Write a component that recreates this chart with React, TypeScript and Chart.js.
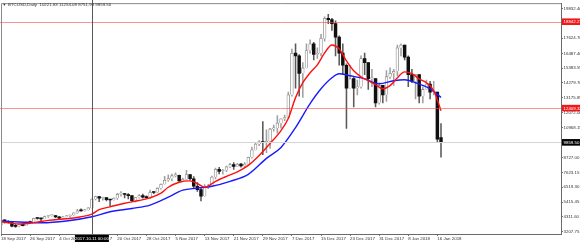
import React, { useEffect, useRef } from 'react';
import { Chart, registerables } from 'chart.js';

Chart.register(...registerables);

// ---- data ----
const startYear = 2017;
const startMonth = 8; // September (0-based)
const startDay = 18;
const totalSlots = 155; // visible daily slots incl. empty right margin
const monthNames = ['Jan', 'Feb', 'Mar', 'Apr', 'May', 'Jun', 'Jul', 'Aug', 'Sep', 'Oct', 'Nov', 'Dec'];

const opens = [
  3700, 4090, 3910, 3880, 3620, 3600, 3780, 3660, 3930, 3890, 4200, 4190, 4160, 4340, 4400, 4400, 4310, 4220, 4320, 4370,
  4430, 4610, 4770, 4760, 4830, 4980, 5640, 5820, 5700, 5750, 5600, 5570, 5710, 6000, 6000, 5980, 5900, 5520, 5750, 5900,
  5780, 5750, 6150, 6130, 6450, 6740, 7030, 7160, 7380, 7400, 6990, 7100, 7460, 7150, 6590, 6340, 5860, 6520, 6600, 7280,
  7850, 7700, 7780, 8040, 8200, 8070, 8250, 8100, 8250, 8750, 9300, 9730, 9900, 9840, 9950, 10860, 10910, 11290, 11620, 11700,
  13400, 16500, 16300, 15000, 15400, 16700, 17200, 16400, 16500, 17600, 19100, 19000, 18700, 17700, 16500, 15600, 13900, 14600, 13900, 14000,
  16100, 15800, 14600, 14600, 12800, 14100, 13400, 14750, 15000, 15150, 16900, 17100, 16200, 14900, 14400, 14900, 13300, 13800, 14200, 13600,
  13600, 10221.83,
];
const highs = [
  4120, 4100, 4030, 3900, 3760, 3800, 3790, 3970, 3990, 4220, 4260, 4210, 4370, 4410, 4470, 4430, 4340, 4360, 4420, 4460,
  4620, 4880, 4920, 4870, 5000, 5660, 5860, 5840, 5780, 5770, 5600, 5730, 6070, 6190, 6070, 6040, 5900, 5760, 5970, 6000,
  5870, 6310, 6200, 6470, 6770, 7330, 7440, 7490, 7600, 7420, 7200, 7770, 7460, 7310, 6860, 6490, 6720, 6730, 7340, 7940,
  8000, 7850, 8100, 8300, 8360, 8300, 8300, 8350, 8760, 9500, 9780, 9990, 11400, 10800, 10900, 11150, 11850, 11620, 11890, 13600,
  16800, 17200, 16400, 15800, 17200, 17500, 17300, 16900, 17900, 19200, 19400, 19100, 18900, 17800, 17200, 15700, 15600, 14700, 14500, 16300,
  16500, 15800, 15300, 14600, 14300, 14100, 15200, 15400, 15300, 17100, 17200, 17100, 16300, 15300, 14900, 14900, 14000, 14500, 14400, 14400,
  13600, 11254.08,
];
const lows = [
  3690, 3850, 3850, 3570, 3530, 3570, 3640, 3660, 3860, 3890, 4140, 4010, 4160, 4280, 4370, 4260, 4180, 4180, 4300, 4290,
  4420, 4560, 4730, 4740, 4820, 4960, 5570, 5450, 5560, 5500, 5110, 5550, 5610, 5850, 5720, 5650, 5460, 5400, 5700, 5710,
  5690, 5690, 6040, 6100, 6380, 6740, 6950, 6990, 7280, 6960, 6970, 7060, 7060, 6420, 6200, 5500, 5860, 6420, 6600, 7140,
  7510, 7500, 7680, 7980, 7850, 8070, 8020, 7980, 8190, 8690, 9300, 9620, 8950, 9100, 9400, 10700, 10550, 10910, 11470, 11700,
  13300, 13900, 13300, 13200, 15400, 16500, 16000, 16100, 16300, 17400, 18700, 18200, 16300, 15600, 14900, 10900, 13900, 12500, 13400, 13900,
  14900, 13800, 14000, 12500, 12700, 12800, 12900, 14600, 14100, 14800, 16300, 16000, 14000, 14300, 13100, 12800, 12800, 13800, 13100, 13400,
  9900, 8751.99,
];
const closes = [
  4090, 3910, 3880, 3620, 3600, 3780, 3660, 3930, 3890, 4200, 4190, 4160, 4340, 4400, 4400, 4310, 4220, 4320, 4370, 4430,
  4610, 4770, 4760, 4830, 4980, 5640, 5820, 5700, 5750, 5600, 5570, 5710, 6000, 6000, 5980, 5900, 5520, 5750, 5900, 5780,
  5750, 6150, 6130, 6450, 6740, 7030, 7160, 7380, 7400, 6990, 7100, 7460, 7150, 6590, 6340, 5860, 6520, 6600, 7280, 7850,
  7700, 7780, 8040, 8200, 8070, 8250, 8100, 8250, 8750, 9300, 9730, 9900, 9840, 9950, 10860, 10910, 11290, 11620, 11700, 13400,
  16500, 16300, 15000, 15400, 16700, 17200, 16400, 16500, 17600, 19100, 19000, 18700, 17700, 16500, 15600, 13900, 14600, 13900, 14000, 16100,
  15800, 14600, 14600, 12800, 14100, 13400, 14750, 15000, 15150, 16900, 17100, 16200, 14900, 14400, 14900, 13300, 13800, 14200, 13600, 13600,
  10100, 9859.5,
];

// fast (red) and slow (blue) moving averages, read at sampled bars: [bar index, price]
const redMA: [number, number][] = [
  [0, 3950], [5, 3780], [9, 3880], [13, 4050], [18, 4170], [22, 4320], [25, 4520], [27, 4850], [30, 5060], [34, 5330],
  [38, 5530], [41, 5730], [44, 6080], [46, 6520], [49, 6890], [52, 6990], [54, 6790], [56, 6520], [59, 6960], [62, 7330],
  [65, 7670], [68, 8150], [71, 8890], [74, 9780], [77, 10740], [79, 11630], [81, 13190], [83, 14300], [85, 15040], [87, 15630],
  [89, 16520], [91, 17110], [93, 16820], [95, 15930], [97, 15190], [99, 14740], [101, 14450], [103, 14150], [105, 13850], [107, 14080],
  [109, 14670], [111, 15110], [113, 14970], [115, 14590], [117, 14300], [119, 13710], [121, 12220],
];
const blueMA: [number, number][] = [
  [0, 4000], [5, 3930], [11, 3870], [18, 4000], [25, 4320], [30, 4690], [36, 4940], [41, 5190], [46, 5780], [50, 6300],
  [54, 6450], [58, 6590], [63, 6960], [68, 7480], [73, 8670], [77, 9480], [81, 10960], [85, 12740], [88, 13850], [91, 14670],
  [93, 14970], [96, 14820], [100, 14590], [104, 14220], [108, 14450], [111, 14520], [114, 14300], [118, 13850], [121, 13210],
];

const xTickLabels = [
  '18 Sep 2017', '26 Sep 2017', '4 Oct 2017', '12 Oct 2017', '20 Oct 2017', '28 Oct 2017', '5 Nov 2017', '13 Nov 2017',
  '21 Nov 2017', '29 Nov 2017', '7 Dec 2017', '15 Dec 2017', '23 Dec 2017', '31 Dec 2017', '8 Jan 2018', '16 Jan 2018',
];
const yTickValues = [
  19832.4, 17624.7, 16487.4, 15383.55, 14279.7, 13175.85, 12072.0, 10968.15, 8727.0, 7623.15, 6519.3, 5415.45, 4311.6, 3207.75,
];
const levelValues = [18842.27, 12409.32];
const bidPrice = 9859.5;
const headerText = 'BTCUSD,Daily  10221.83 11254.08 8751.99 9859.50';
const crosshairIndex = 25;
const crosshairLabel = '2017.10.11 00:00';

// ---- derived ----
const slotLabels: string[] = [];
for (let i = 0; i < totalSlots; i++) {
  const d = new Date(Date.UTC(startYear, startMonth, startDay + i));
  slotLabels.push(`${d.getUTCDate()} ${monthNames[d.getUTCMonth()]} ${d.getUTCFullYear()}`);
}
const tickSet = new Set(xTickLabels);

const FONT = "'Liberation Sans', Arial, sans-serif";
const FS = 4.4;

const overlayPlugin = {
  id: 'mtOverlay',
  afterDatasetsDraw(chart: any) {
    const { ctx, chartArea: ca, scales } = chart;
    const y = scales.y;
    const x = scales.x;
    ctx.save();
    ctx.lineWidth = 1;
    // bid line
    let py = Math.round(y.getPixelForValue(bidPrice)) + 0.5;
    ctx.strokeStyle = '#d4d4d4';
    ctx.beginPath(); ctx.moveTo(ca.left, py); ctx.lineTo(ca.right, py); ctx.stroke();
    // horizontal levels
    ctx.strokeStyle = 'rgba(255,70,70,0.6)';
    levelValues.forEach((v) => {
      const ly = Math.round(y.getPixelForValue(v)) + 0.5;
      ctx.beginPath(); ctx.moveTo(0, ly); ctx.lineTo(ca.right, ly); ctx.stroke();
    });
    // crosshair
    const px = Math.round(x.getPixelForValue(crosshairIndex)) + 0.5;
    ctx.strokeStyle = 'rgba(70,70,70,0.9)';
    ctx.beginPath(); ctx.moveTo(px, 0); ctx.lineTo(px, ca.bottom); ctx.stroke();
    ctx.restore();
  },
  afterDraw(chart: any) {
    const { ctx, chartArea: ca, scales, width } = chart;
    const y = scales.y;
    const x = scales.x;
    ctx.save();
    // frame top/left
    ctx.strokeStyle = '#8a8a8a';
    ctx.lineWidth = 1;
    ctx.beginPath();
    ctx.moveTo(ca.left + 0.5, ca.bottom); ctx.lineTo(ca.left + 0.5, ca.top + 0.5); ctx.lineTo(ca.right, ca.top + 0.5);
    ctx.stroke();

    ctx.font = `${FS}px ${FONT}`;
    ctx.textBaseline = 'middle';
    ctx.textAlign = 'left';
    const box = (val: number, bg: string) => {
      const by = y.getPixelForValue(val);
      ctx.fillStyle = bg;
      ctx.fillRect(ca.right + 1, by - 3.3, width - ca.right - 1, 6.6);
      ctx.fillStyle = '#ffffff';
      ctx.fillText(val.toFixed(2), ca.right + 2.5, by + 0.2);
    };
    levelValues.forEach((v) => box(v, '#f01818'));
    box(bidPrice, '#000000');

    // crosshair time label
    const cx = x.getPixelForValue(crosshairIndex);
    ctx.fillStyle = '#000000';
    ctx.fillRect(cx - 17, ca.bottom + 1, 34, 7);
    ctx.fillStyle = '#ffffff';
    ctx.textAlign = 'center';
    ctx.fillText(crosshairLabel, cx, ca.bottom + 4.6);

    // header
    ctx.textAlign = 'left';
    ctx.fillStyle = '#333333';
    ctx.font = `${FS - 0.6}px ${FONT}`;
    ctx.fillText('\u25BC', 2.5, 5.2);
    ctx.font = `${FS}px ${FONT}`;
    ctx.fillText(headerText, 8, 5.2);
    ctx.restore();
  },
};

export default function App() {
  const ref = useRef<HTMLCanvasElement | null>(null);
  useEffect(() => {
    document.body.style.margin = '0';
    if (!ref.current) return;
    const n = closes.length;
    const isUp = closes.map((c, i) => c >= opens[i]);
    const wickData = highs.map((h, i) => [lows[i], h]);
    const bodyData = closes.map((c, i) => [Math.min(opens[i], c), Math.max(opens[i], c)]);
    const lineData = (arr: [number, number][]) => arr.map(([i, v]) => ({ x: slotLabels[i], y: v }));

    const chart = new Chart(ref.current, {
      type: 'bar',
      data: {
        labels: slotLabels,
        datasets: [
          {
            type: 'line',
            data: lineData(redMA) as any,
            borderColor: '#ff1010',
            borderWidth: 1.4,
            pointRadius: 0,
            spanGaps: true,
            cubicInterpolationMode: 'monotone',
            order: 1,
          } as any,
          {
            type: 'line',
            data: lineData(blueMA) as any,
            borderColor: '#1a1aff',
            borderWidth: 1.4,
            pointRadius: 0,
            spanGaps: true,
            cubicInterpolationMode: 'monotone',
            order: 2,
          } as any,
          {
            type: 'bar',
            data: bodyData as any,
            backgroundColor: isUp.map((u) => (u ? '#ffffff' : '#101010')),
            borderColor: isUp.map((u) => (u ? '#8c8c8c' : '#101010')),
            borderWidth: isUp.map((u) => (u ? 0.8 : 0)),
            barThickness: 2.8,
            minBarLength: 1,
            grouped: false,
            order: 3,
          } as any,
          {
            type: 'bar',
            data: wickData as any,
            backgroundColor: isUp.map((u) => (u ? '#a0a0a0' : '#5a5a5a')),
            borderWidth: 0,
            barThickness: 0.9,
            grouped: false,
            order: 4,
          } as any,
        ],
      },
      options: {
        responsive: false,
        maintainAspectRatio: false,
        animation: false,
        events: [],
        layout: { padding: { left: 1, top: 2, right: 0, bottom: 0 } },
        plugins: { legend: { display: false }, tooltip: { enabled: false } },
        scales: {
          x: {
            type: 'category',
            offset: false,
            afterFit: (s: any) => { s.height = 10; },
            grid: { display: true, drawOnChartArea: false, drawTicks: true, tickLength: 2, color: '#777777', offset: false },
            border: { display: true, color: '#6a6a6a', width: 1 },
            ticks: {
              autoSkip: false,
              maxRotation: 0,
              minRotation: 0,
              align: 'start',
              padding: 0,
              color: '#333333',
              font: { family: FONT, size: FS },
              callback: (_v: any, i: number) => (tickSet.has(slotLabels[i]) ? slotLabels[i] : null),
            },
          },
          y: {
            type: 'linear',
            position: 'right',
            min: 3037,
            max: 20225,
            afterFit: (s: any) => { s.width = 19; },
            afterBuildTicks: (s: any) => { s.ticks = yTickValues.map((v) => ({ value: v })); },
            grid: { display: true, drawOnChartArea: false, drawTicks: true, tickLength: 2, color: '#777777' },
            border: { display: true, color: '#6a6a6a', width: 1 },
            ticks: {
              autoSkip: false,
              padding: 0.5,
              color: '#333333',
              font: { family: FONT, size: FS },
              callback: (v: any) => Number(v).toFixed(2),
            },
          },
        },
      },
      plugins: [overlayPlugin],
    } as any);
    return () => chart.destroy();
  }, []);

  return (
    <div style={{ width: 580, height: 244, background: '#ffffff' }}>
      <canvas ref={ref} width={580} height={244} style={{ width: 580, height: 244, display: 'block' }} />
    </div>
  );
}
